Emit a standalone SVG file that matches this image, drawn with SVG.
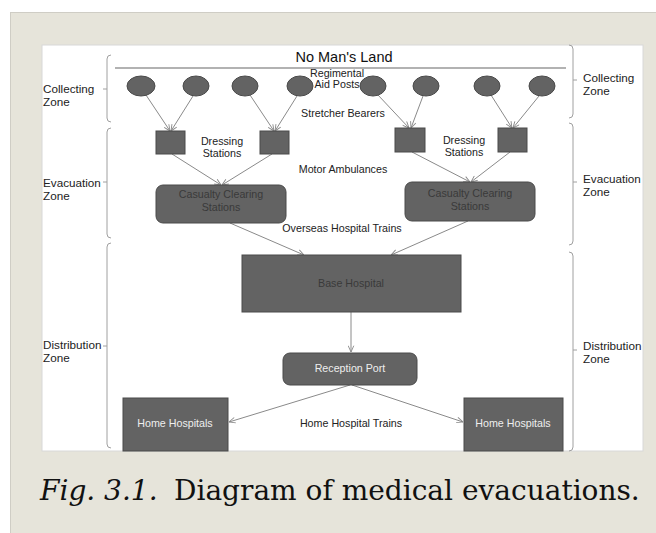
<svg xmlns="http://www.w3.org/2000/svg" width="656" height="533" viewBox="0 0 656 533">
<defs>
<style>
.t{font-family:"Liberation Sans",Arial,sans-serif;font-size:10.7px;fill:#222}
.zl{font-family:"Liberation Sans",Arial,sans-serif;font-size:11.7px;fill:#222}
.nt{font-family:"Liberation Sans",Arial,sans-serif;font-size:10.7px;text-anchor:middle}
.dk{fill:#3a3a3a}
.lt{fill:#eeeeee}
.node{fill:#636363;stroke:#4a4a4a;stroke-width:1}
.br{fill:none;stroke:#a0a0a0;stroke-width:1}
.cn{fill:none;stroke:#8a8a8a;stroke-width:1;marker-end:url(#ah)}
.cap{font-family:"DejaVu Serif",serif;font-size:28px;fill:#111}
</style>
<marker id="ah" viewBox="0 0 10 10" refX="10" refY="5" markerWidth="7" markerHeight="7" orient="auto" markerUnits="userSpaceOnUse">
<path d="M1,1 L10,5 L1,9" fill="none" stroke="#8a8a8a" stroke-width="1.3"/>
</marker>
</defs>
<rect x="0" y="0" width="656" height="533" fill="#ffffff"/>
<rect x="10.5" y="12.5" width="650" height="530" fill="#e6e4da" stroke="#cfcdc5" stroke-width="1"/>
<rect x="42" y="45" width="601" height="406" fill="#ffffff" stroke="#d8d8d8" stroke-width="1"/>

<g id="nomansland">
<text x="344" y="62" font-family="Liberation Sans,Arial,sans-serif" font-size="14.5" text-anchor="middle" fill="#111">No Man's Land</text>
<line x1="115" y1="68" x2="566" y2="68" stroke="#999" stroke-width="1.5"/>
</g>

<g id="zones" class="br">
<path d="M111 55 Q107 55 107 59 V118 Q107 122 111 122 M103 89 H107"/>
<path d="M111 128 Q107 128 107 132 V234 Q107 238 111 238 M103 182 H107"/>
<path d="M111 243 Q107 243 107 247 V444 Q107 448 111 448 M103 346 H107"/>
<path d="M569 45 Q573 45 573 49 V114 Q573 118 569 118 M573 80 H577"/>
<path d="M569 123 Q573 123 573 127 V241 Q573 245 569 245 M573 182 H577"/>
<path d="M569 252 Q573 252 573 256 V447 Q573 451 569 451 M573 350 H577"/>
</g>
<g id="zone-labels">
<text class="zl" x="43" y="93">Collecting</text><text class="zl" x="43" y="106">Zone</text>
<text class="zl" x="43" y="187">Evacuation</text><text class="zl" x="43" y="200">Zone</text>
<text class="zl" x="43" y="349">Distribution</text><text class="zl" x="43" y="362">Zone</text>
<text class="zl" x="583" y="82">Collecting</text><text class="zl" x="583" y="95">Zone</text>
<text class="zl" x="583" y="183">Evacuation</text><text class="zl" x="583" y="196">Zone</text>
<text class="zl" x="583" y="350">Distribution</text><text class="zl" x="583" y="363">Zone</text>
</g>

<g id="connectors">
<line class="cn" x1="146" y1="95" x2="170" y2="131"/>
<line class="cn" x1="193" y1="96" x2="171" y2="131"/>
<line class="cn" x1="250" y1="95" x2="274" y2="131"/>
<line class="cn" x1="297" y1="96" x2="275" y2="131"/>
<line class="cn" x1="378" y1="95" x2="409" y2="128"/>
<line class="cn" x1="423" y1="96" x2="411" y2="128"/>
<line class="cn" x1="491" y1="95" x2="512" y2="128"/>
<line class="cn" x1="539" y1="96" x2="513" y2="128"/>
<line class="cn" x1="172" y1="154" x2="221" y2="185"/>
<line class="cn" x1="272" y1="154" x2="222" y2="185"/>
<line class="cn" x1="412" y1="152" x2="470" y2="182"/>
<line class="cn" x1="510" y1="152" x2="471" y2="182"/>
<line class="cn" x1="230" y1="223" x2="304" y2="255"/>
<line class="cn" x1="468" y1="221" x2="391" y2="255"/>
<line class="cn" x1="351" y1="312" x2="351" y2="352"/>
<line class="cn" x1="350" y1="385" x2="229" y2="422"/>
<line class="cn" x1="352" y1="385" x2="463" y2="422"/>
</g>

<g id="aid-posts">
<ellipse class="node" cx="141" cy="86" rx="14" ry="10"/>
<ellipse class="node" cx="196" cy="86" rx="13" ry="10"/>
<ellipse class="node" cx="245" cy="86" rx="13" ry="10"/>
<ellipse class="node" cx="300" cy="86" rx="13" ry="10"/>
<ellipse class="node" cx="373" cy="86" rx="13" ry="10"/>
<ellipse class="node" cx="426" cy="86" rx="13" ry="10"/>
<ellipse class="node" cx="487" cy="86" rx="13" ry="10"/>
<ellipse class="node" cx="542" cy="86" rx="13" ry="10"/>
<text class="t" x="337" y="77" font-size="9.2" text-anchor="middle">Regimental</text>
<text class="t" x="337" y="88" font-size="9.2" text-anchor="middle">Aid Posts</text>
</g>

<g id="dressing-stations">
<rect class="node" x="156" y="131" width="29" height="23"/>
<rect class="node" x="260" y="131" width="29" height="23"/>
<rect class="node" x="395" y="128" width="30" height="24"/>
<rect class="node" x="498" y="128" width="29" height="24"/>
<text class="t" x="222" y="145" text-anchor="middle">Dressing</text>
<text class="t" x="222" y="157" text-anchor="middle">Stations</text>
<text class="t" x="464" y="144" text-anchor="middle">Dressing</text>
<text class="t" x="464" y="156" text-anchor="middle">Stations</text>
</g>

<g id="ccs-left">
<rect class="node" x="156" y="185" width="130" height="38" rx="7"/>
<text class="nt dk" x="221" y="198">Casualty Clearing</text>
<text class="nt dk" x="221" y="211">Stations</text>
</g>
<g id="ccs-right">
<rect class="node" x="405" y="182" width="130" height="39" rx="7"/>
<text class="nt dk" x="470" y="197">Casualty Clearing</text>
<text class="nt dk" x="470" y="210">Stations</text>
</g>

<g id="base-hospital">
<rect class="node" x="242" y="255" width="219" height="57"/>
<text class="nt dk" x="351" y="287">Base Hospital</text>
</g>

<g id="reception-port">
<rect class="node" x="283" y="353" width="134" height="32" rx="7"/>
<text class="nt lt" x="350" y="372">Reception Port</text>
</g>

<g id="home-hospitals-left">
<rect class="node" x="123" y="398" width="105" height="53"/>
<text class="nt lt" x="175" y="427">Home Hospitals</text>
</g>
<g id="home-hospitals-right">
<rect class="node" x="464" y="398" width="99" height="53"/>
<text class="nt lt" x="513" y="427">Home Hospitals</text>
</g>

<g id="edge-labels">
<text class="t" x="343" y="117" text-anchor="middle">Stretcher Bearers</text>
<text class="t" x="343" y="173" text-anchor="middle">Motor Ambulances</text>
<text class="t" x="342" y="232" text-anchor="middle">Overseas Hospital Trains</text>
<text class="t" x="351" y="427" text-anchor="middle">Home Hospital Trains</text>
</g>

<text class="cap" x="40" y="500" font-style="italic">Fig. 3.1.</text>
<text class="cap" x="174" y="500">Diagram of medical evacuations.</text>
</svg>
